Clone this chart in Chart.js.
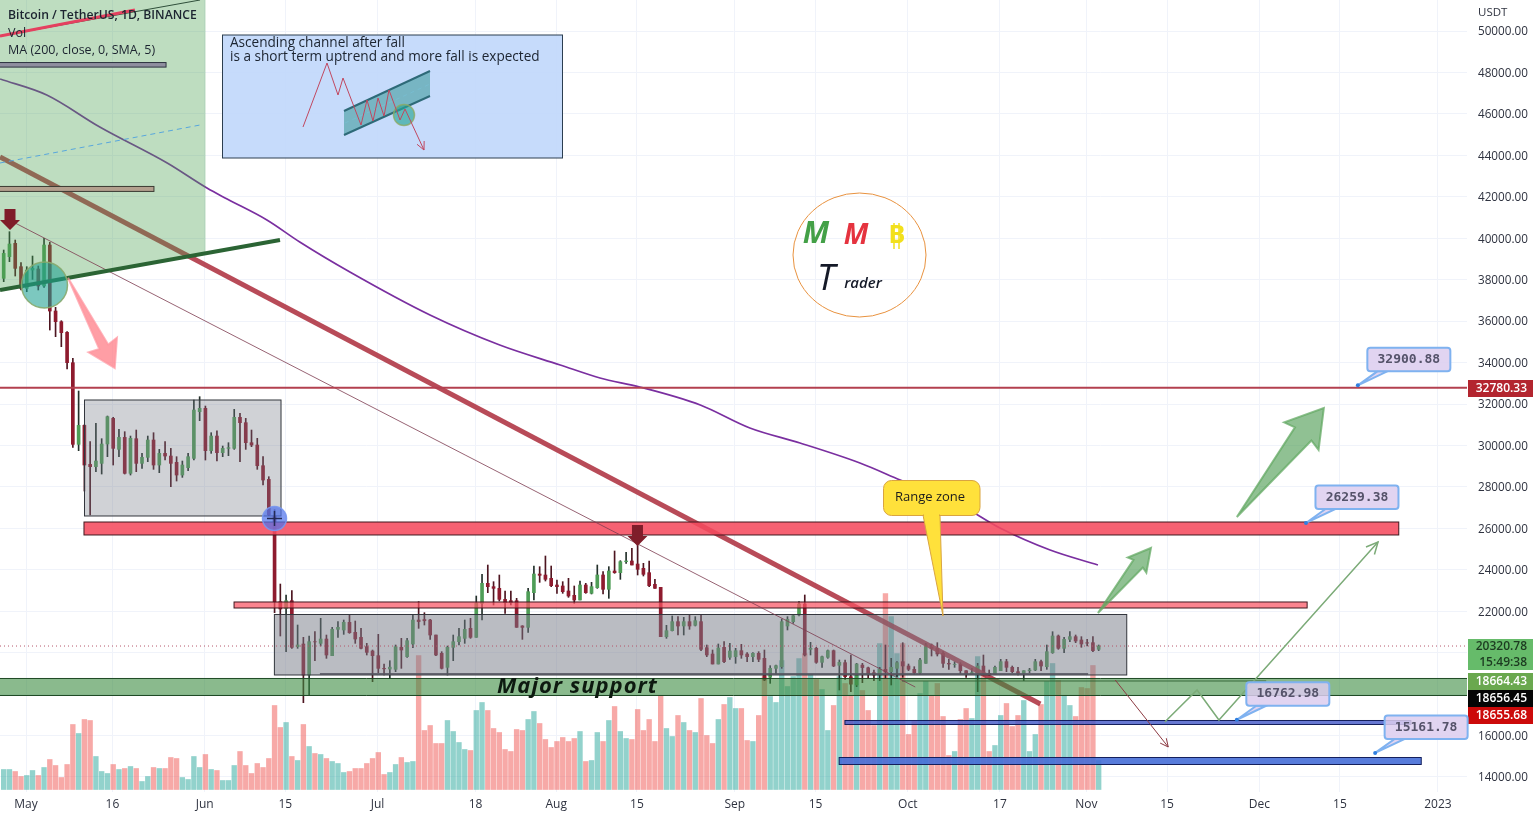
<!DOCTYPE html>
<html lang="en">
<head>
    <meta charset="UTF-8">
    <title>Bitcoin / TetherUS, 1D, BINANCE</title>
    <script src="https://cdn.jsdelivr.net/npm/chart.js"></script>
    <style>
        html, body { margin: 0; padding: 0; background: #fff; overflow: hidden; }
        canvas { display: block; }
    </style>
</head>
<body>
    <canvas id="myChart" width="1538" height="818"></canvas>

    <script>
        // day number 0 is 1 May 2022, first candle is 27 Apr
        // candles sit a little right of the date tick
        const firstDay = -3.87;

        const opens = [
            38065, 39110, 39754, 38628,
            37582, 38467, 38515, 37695, 39673, 36488, 35973, 35458, 33994, 30053, 30970, 29088, 28976, 29136, 30069, 31308, 29812, 30391, 28654, 30327, 29136, 29426, 30263, 29056, 29619, 29490, 29185, 28573, 28927, 29377, 31630,
            31791, 29748, 30455, 29651, 29860, 29860, 31357, 31100, 30134, 30021, 29023, 28364, 26600, 22461, 22139, 22509, 20289, 20418, 18922, 20530, 20450, 20659, 19855, 21126, 21094, 21463, 20981, 20740, 20289, 20080,
            19855, 19243, 19210, 19195, 20257, 19807, 20418, 21576, 21600, 21576, 20852, 19967, 19292, 20257, 20530, 20691, 21174, 20740, 22380, 23346, 23185, 23104, 22573, 22509, 22509, 21290, 21222, 22895, 23796, 23748, 23587,
            23265, 23218, 22976, 22767, 22542, 23266, 22864, 23137, 23749, 23057, 23942, 23861, 24392, 24424, 24279, 24070, 23861, 23298, 23153, 20772, 21062, 21497, 21287, 21497, 21320, 21497, 20242, 19936, 19453, 20258, 19775,
            19807, 20097, 19936, 19807, 19968, 19727, 18810, 19244, 19325, 21287, 21497, 21818, 22349, 20161, 20209, 19534, 19775, 20097, 19390, 19518, 18842, 18440, 19400, 19270, 19035, 18922, 19196, 19083, 19244, 19566,
            19357, 19196, 19035, 19485, 20370, 20209, 19968, 19485, 19430, 19440, 19131, 18970, 19035, 19357, 19003, 18960, 19131, 19566, 19292, 19083, 19003, 19131, 19163, 19566, 19323, 19997, 20805, 20209, 20643, 20772, 20612,
            20480, 20483, 20161
        ];
        const highs = [
            39432, 40317, 39915, 38821,
            38628, 39142, 38660, 39995, 39802, 36665, 36021, 35491, 34204, 32627, 31000, 30182, 31067, 30327, 31421, 31360, 30777, 30665, 30455, 30745, 29619, 30455, 30616, 29812, 30182, 29860, 29458, 29249, 29619, 32193, 32354,
            31903, 30616, 30712, 29973, 30134, 31742, 31549, 31308, 30745, 30343, 29458, 28493, 26900, 23313, 22783, 22992, 21335, 20740, 20804, 21013, 21657, 20852, 21222, 21496, 21576, 21817, 21528, 21174, 20450, 20128,
            20884, 19453, 19613, 20370, 20691, 20691, 21817, 22461, 21930, 21608, 20852, 20048, 20321, 20852, 21174, 21576, 21657, 22734, 23780, 24230, 23426, 23748, 22976, 22976, 22622, 21303, 23104, 24182, 24150, 24665, 24182,
            23507, 23427, 23588, 23218, 23459, 23347, 23395, 24231, 23909, 24151, 24907, 24440, 24843, 25036, 25196, 24312, 24424, 23539, 23153, 21320, 21770, 21738, 21706, 21850, 21738, 21818, 20370, 20129, 20419, 20531, 20451,
            20210, 20403, 20000, 20000, 20049, 20129, 19373, 19405, 21625, 21738, 21850, 22462, 22784, 20499, 20258, 19839, 20129, 20129, 19646, 19646, 19887, 19485, 19485, 19300, 19163, 19292, 20370, 19727, 19566, 20483,
            19453, 19324, 19727, 20450, 20418, 20483, 20048, 19678, 19566, 19518, 19131, 19244, 19485, 19887, 19163, 19357, 19678, 19678, 19357, 19292, 19131, 19244, 19678, 19646, 20370, 21013, 20853, 20740, 21013, 20853, 20772,
            20644, 20772, 20370
        ];
        const lows = [
            37904, 38869, 38177, 37502,
            37421, 38016, 37502, 37630, 35571, 35249, 34767, 33689, 29900, 29748, 27800, 26643, 28734, 28621, 29458, 29056, 29458, 28621, 28573, 28734, 28895, 29217, 28847, 28686, 29297, 28010, 28284, 28461, 28782, 29297, 31195,
            29297, 29619, 29249, 29458, 29506, 29812, 29217, 29812, 29941, 28847, 28091, 26610, 21930, 20804, 20048, 20209, 20209, 17586, 17924, 19613, 20321, 19726, 19855, 20740, 20884, 20933, 20450, 20176, 19887, 18600,
            19035, 18922, 18761, 19083, 19243, 19774, 20241, 21174, 21335, 20643, 19855, 19211, 18922, 19613, 20370, 20450, 20691, 20740, 21576, 22895, 22300, 22493, 21898, 22300, 21222, 20643, 20981, 22541, 23394, 23458, 23185,
            22863, 22864, 22671, 22381, 22542, 22864, 22832, 23105, 22832, 22623, 23829, 23539, 24312, 24231, 23749, 23700, 23186, 23105, 20772, 20692, 21046, 20853, 20853, 21127, 21287, 20097, 19807, 19453, 19453, 19518, 19679,
            19486, 19727, 19566, 19566, 19566, 18649, 18520, 18971, 19244, 21095, 21416, 21770, 19839, 19888, 19486, 19292, 19727, 19325, 18198, 18713, 18118, 18360, 18552, 18761, 18649, 18649, 18761, 18440, 18842, 18810,
            19131, 18954, 18970, 19485, 19839, 19839, 19292, 19196, 19292, 19003, 18810, 18970, 18118, 18922, 18890, 18970, 19131, 19083, 19035, 18922, 18649, 19035, 19131, 19131, 19196, 19968, 20161, 20000, 20531, 20483, 20258,
            20322, 20048, 20097
        ];
        const closes = [
            39270, 39721, 38547, 37582,
            38467, 38547, 37695, 39673, 36488, 35973, 35442, 33994, 30053, 30970, 29056, 28976, 29249, 30069, 31389, 29860, 30391, 28654, 30343, 29136, 29426, 30263, 29056, 29619, 29490, 29136, 28573, 29056, 29458, 31710, 31791,
            29748, 30455, 29651, 29860, 29892, 31357, 31100, 30134, 30021, 29023, 28332, 26643, 22461, 22107, 22509, 20257, 20370, 18922, 20530, 20520, 20659, 19887, 21126, 21222, 21463, 20965, 20659, 20209, 20016, 19855,
            19243, 19220, 19300, 20289, 20128, 20579, 21576, 21500, 21540, 20852, 19887, 19243, 20257, 20530, 20772, 21126, 20740, 22380, 23346, 23185, 23104, 22573, 22413, 22413, 21222, 21220, 22943, 23796, 23732, 23539, 23233,
            23185, 22944, 22735, 22542, 23266, 22896, 23186, 23749, 23057, 23942, 23860, 24392, 24424, 24231, 24022, 23781, 23234, 23105, 20772, 21062, 21497, 21287, 21497, 21287, 21545, 20161, 19888, 19453, 20225, 19566, 20081,
            20097, 19888, 19807, 19968, 19679, 18681, 19244, 19373, 21497, 21609, 21786, 22349, 19888, 20209, 19534, 19807, 20097, 19357, 19534, 18842, 18480, 19453, 19280, 18970, 18922, 19196, 19083, 19292, 19518, 19357,
            19196, 19035, 19646, 20370, 20209, 19936, 19485, 19453, 19440, 19131, 18970, 19035, 19357, 19003, 18950, 19292, 19566, 19292, 19083, 19003, 19131, 19163, 19566, 19357, 20048, 20805, 20209, 20643, 20772, 20563, 20418,
            20460, 20097, 20320.78
        ];
        // no volume axis on the chart, so these are relative (1 unit = 1 px of bar)
        const volumes = [
            20, 20, 18, 13,
            14, 19, 14, 22, 30, 24, 12, 25, 65, 56, 70, 69, 33, 18, 16, 25, 20, 21, 23, 21, 8, 13, 22, 21, 21, 32, 31, 12, 10, 33, 22,
            35, 20, 19, 9, 9, 24, 38, 24, 16, 26, 22, 31, 84, 62, 67, 33, 29, 65, 43, 36, 35, 31, 28, 26, 17, 18, 21, 21, 26, 31,
            37, 15, 17, 25, 32, 27, 28, 134, 59, 64, 46, 46, 69, 58, 47, 40, 39, 79, 87, 79, 61, 57, 40, 38, 60, 59, 70, 78, 66, 50, 42,
            48, 52, 48, 51, 58, 28, 29, 57, 48, 69, 83, 58, 51, 50, 80, 59, 70, 48, 94, 61, 53, 74, 67, 59, 57, 91, 54, 46, 70, 85, 92,
            81, 81, 49, 48, 74, 113, 93, 87, 129, 103, 113, 131, 136, 115, 110, 100, 59, 84, 113, 106, 94, 114, 99, 79, 64, 146, 196, 173, 136, 146,
            55, 68, 96, 108, 94, 106, 73, 34, 38, 70, 81, 71, 133, 113, 38, 44, 74, 86, 63, 74, 89, 38, 55, 85, 108, 126, 109, 94, 84, 73, 102,
            101, 124, 29
        ];

        // MA 200, read at a few places along the curve
        const maDays = [-4.5, 3.6, 12.8, 24.5, 31.4, 34.9, 41.8, 47.5, 56.2, 70.1, 82.2, 92.7, 99.6, 106.5, 117, 125.6, 134.3, 144.7, 151.7, 162.1, 169, 177.7, 186];
        const maValues = [47686, 46913, 45369, 43632, 42425, 41894, 40881, 39819, 38371, 36296, 34848, 33883, 33256, 32821, 31953, 30843, 30119, 29154, 28333, 27127, 26017, 24955, 24231];

        const priceTicks = [14000, 16000, 18000, 20000, 22000, 24000, 26000, 28000, 30000, 32000, 34000, 36000, 38000, 40000, 42000, 44000, 46000, 48000, 50000];
        const dayTicks = [0, 15, 31, 45, 61, 78, 92, 106, 123, 137, 153, 169, 184, 198, 214, 228, 245];
        const dayLabels = ['May', '16', 'Jun', '15', 'Jul', '18', 'Aug', '15', 'Sep', '15', 'Oct', '17', 'Nov', '15', 'Dec', '15', '2023'];

        // drawn zones: day from, day to, price top, price bottom
        const grayBoxes = [[10.15, 44.25, 32194, 26596], [43.1, 191, 21842, 18923]];
        const redZone = [10.06, 238.2, 26306, 25680];
        const pinkZone = [36.1, 222.3, 22446, 22156];
        const blueZones = [[142.1, 240.3, 16727, 16534], [141.1, 242.1, 14941, 14603]];
        const supportTop = 18754;
        const supportBottom = 17933;

        const resistanceLevel = 32780.33;
        const lastPrice = 20320.78;
        const targets = [[231.1, 32900.88], [222.1, 26259.38], [210.1, 16762.98], [234.1, 15161.78]];

        const days = opens.map((o, i) => firstDay + i);
        const isUp = opens.map((o, i) => closes[i] >= o);

        const upColor = '#4f9d57';
        const downColor = '#8e1b2e';

        function roundRect(ctx, x, y, w, h, r) {
            ctx.beginPath();
            ctx.roundRect(x, y, w, h, r);
        }

        function text(ctx, str, x, y, font, color, align) {
            ctx.font = font;
            ctx.fillStyle = color;
            ctx.textAlign = align || 'left';
            ctx.textBaseline = 'middle';
            ctx.fillText(str, x, y);
        }

        function polyline(ctx, pts, color, width, dash) {
            ctx.save();
            ctx.beginPath();
            pts.forEach((p, i) => i ? ctx.lineTo(p[0], p[1]) : ctx.moveTo(p[0], p[1]));
            ctx.strokeStyle = color;
            ctx.lineWidth = width;
            ctx.setLineDash(dash || []);
            ctx.stroke();
            ctx.restore();
        }

        function polygon(ctx, pts, fill, stroke, width) {
            ctx.beginPath();
            pts.forEach((p, i) => i ? ctx.lineTo(p[0], p[1]) : ctx.moveTo(p[0], p[1]));
            ctx.closePath();
            ctx.fillStyle = fill;
            ctx.fill();
            if (stroke) {
                ctx.strokeStyle = stroke;
                ctx.lineWidth = width || 1;
                ctx.stroke();
            }
        }

        function arrowHead(ctx, from, to, size, color, width) {
            const a = Math.atan2(to[1] - from[1], to[0] - from[0]);
            polyline(ctx, [
                [to[0] - size * Math.cos(a - 0.45), to[1] - size * Math.sin(a - 0.45)],
                to,
                [to[0] - size * Math.cos(a + 0.45), to[1] - size * Math.sin(a + 0.45)]
            ], color, width);
        }

        // big arrow with a thin tail, same shape as the tradingview one
        function blockArrow(ctx, from, to, headLen, headW, stem, fill, stroke) {
            const dx = to[0] - from[0], dy = to[1] - from[1];
            const len = Math.hypot(dx, dy);
            const ux = dx / len, uy = dy / len, nx = -uy, ny = ux;
            const bx = to[0] - ux * headLen, by = to[1] - uy * headLen;
            const nbx = to[0] - ux * headLen * 0.92, nby = to[1] - uy * headLen * 0.92;
            polygon(ctx, [
                from,
                [nbx + nx * stem, nby + ny * stem],
                [bx + nx * headW, by + ny * headW],
                to,
                [bx - nx * headW, by - ny * headW],
                [nbx - nx * stem, nby - ny * stem]
            ], fill, stroke, 2);
        }

        function downMarker(ctx, cx, top) {
            polygon(ctx, [
                [cx - 5.5, top], [cx + 5.5, top], [cx + 5.5, top + 11], [cx + 10, top + 11],
                [cx, top + 21], [cx - 10, top + 11], [cx - 5.5, top + 11]
            ], '#7f1d2a');
        }

        function zone(ctx, X, Y, z, fill, stroke) {
            const x = X(z[0]), y = Y(z[2]);
            const w = X(z[1]) - x, h = Y(z[3]) - y;
            ctx.fillStyle = fill;
            ctx.fillRect(x, y, w, h);
            ctx.strokeStyle = stroke;
            ctx.lineWidth = 1;
            ctx.strokeRect(x, y, w, h);
        }

        function infoBox(ctx) {
            ctx.fillStyle = 'rgba(190,214,250,0.88)';
            ctx.fillRect(222.5, 35, 340, 123);
            ctx.strokeStyle = '#2c3e50';
            ctx.lineWidth = 1;
            ctx.strokeRect(222.5, 35, 340, 123);
            polygon(ctx, [[344, 111], [430, 71], [430, 96], [344, 135]], 'rgba(55,150,150,0.55)');
            polyline(ctx, [[344, 111], [430, 71]], '#2e6a78', 2);
            polyline(ctx, [[344, 135], [430, 96]], '#2e6a78', 2);
            polyline(ctx, [[345, 123], [430, 84]], 'rgba(120,190,210,0.8)', 1, [4, 4]);
            ctx.beginPath();
            ctx.arc(404, 115, 10.5, 0, Math.PI * 2);
            ctx.fillStyle = 'rgba(40,165,150,0.65)';
            ctx.fill();
            ctx.strokeStyle = 'rgba(140,170,100,0.8)';
            ctx.lineWidth = 1.5;
            ctx.stroke();
            const path = [[303, 127], [327, 63], [338, 95], [343, 78], [361, 125], [367, 100], [373, 121], [378, 98], [384, 116], [389, 90], [400, 120], [405, 109], [424, 150]];
            polyline(ctx, path, '#c0475f', 1);
            arrowHead(ctx, path[11], path[12], 9, '#c0475f', 1);
            text(ctx, 'Ascending channel after fall', 230, 43.5, '13.6px "Open Sans"', '#1c2430');
            text(ctx, 'is a short term uptrend and more fall is expected', 230, 57.5, '13.6px "Open Sans"', '#1c2430');
        }

        function logo(ctx) {
            ctx.beginPath();
            ctx.ellipse(859.5, 255, 66.5, 62, 0, 0, Math.PI * 2);
            ctx.strokeStyle = '#e8923f';
            ctx.lineWidth = 1;
            ctx.stroke();
            text(ctx, 'M', 816, 234, 'italic bold 30px "Open Sans"', '#43a047', 'center');
            text(ctx, 'M', 856, 236, 'italic bold 28px "Open Sans"', '#e5333f', 'center');
            text(ctx, 'B', 897, 236, 'bold 25px "Open Sans"', '#f2e01c', 'center');
            polyline(ctx, [[894, 223], [894, 249]], '#f2e01c', 1.5);
            polyline(ctx, [[899, 223], [899, 249]], '#f2e01c', 1.5);
            text(ctx, 'T', 826, 280, 'italic 36px "Open Sans"', '#151a28', 'center');
            text(ctx, 'rader', 863, 284, 'italic 600 15px "Open Sans"', '#151a28', 'center');
        }

        function rangeCallout(ctx) {
            ctx.beginPath();
            ctx.roundRect(883.5, 480.5, 96.5, 35, 8);
            ctx.moveTo(923, 515);
            ctx.lineTo(943, 616);
            ctx.lineTo(940, 515);
            ctx.closePath();
            ctx.fillStyle = '#ffe13b';
            ctx.fill();
            ctx.strokeStyle = '#d9a441';
            ctx.lineWidth = 1;
            ctx.stroke();
            ctx.fillStyle = '#ffe13b';
            ctx.fillRect(924, 512, 15, 6);
            text(ctx, 'Range zone', 930, 497.5, '13px "Open Sans"', '#1c1c1c', 'center');
        }

        function targetCallout(ctx, X, Y, t) {
            const tipX = X(t[0]), tipY = Y(t[1]);
            const bx = tipX + 9.5, by = tipY - 37.5, bw = 83, bh = 23.5;
            ctx.beginPath();
            ctx.moveTo(tipX, tipY);
            ctx.lineTo(bx + 10, by + bh);
            ctx.lineTo(bx + 20, by + bh);
            ctx.closePath();
            ctx.fillStyle = 'rgba(220,205,238,0.85)';
            ctx.fill();
            ctx.strokeStyle = '#7fb2f0';
            ctx.lineWidth = 2;
            ctx.stroke();
            roundRect(ctx, bx, by, bw, bh, 3);
            ctx.fillStyle = 'rgba(220,205,238,0.85)';
            ctx.fill();
            ctx.stroke();
            text(ctx, t[1].toFixed(2), bx + bw / 2, by + bh / 2, 'bold 13px "DejaVu Sans Mono"', '#55536a', 'center');
            ctx.beginPath();
            ctx.arc(tipX, tipY, 2, 0, Math.PI * 2);
            ctx.fillStyle = '#2f7fe0';
            ctx.fill();
        }

        const drawings = {
            id: 'drawings',
            afterDatasetsDraw(chart) {
                const ctx = chart.ctx;
                const X = v => chart.scales.x.getPixelForValue(v);
                const Y = v => chart.scales.y.getPixelForValue(v);
                const area = chart.chartArea;

                ctx.save();
                ctx.beginPath();
                ctx.rect(area.left, area.top, area.right - area.left, area.bottom - area.top);
                ctx.clip();

                // thick trend line goes under the green channel, it turns brown in there
                polyline(ctx, [[X(-4.51), Y(43921)], [X(176), Y(17523)]], 'rgba(172,45,60,0.86)', 5);

                // green channel in the top left corner
                polygon(ctx, [[0, 0], [205.5, 0], [205.5, 253], [0, 290]], 'rgba(76,160,80,0.36)');
                polyline(ctx, [[X(-4.51), Y(43632)], [X(30.2), Y(45465)]], '#57a6dc', 1, [5, 4]);
                polyline(ctx, [[X(-4.51), Y(49761)], [X(30.2), Y(51498)]], '#2f4f3a', 1);
                polyline(ctx, [[X(-4.51), Y(49761)], [X(18.9), Y(51016)]], '#e5405f', 3);

                zone(ctx, X, Y, [-5, 24.3, 48480, 48260], '#8f8f9f', '#2e3440');
                zone(ctx, X, Y, [-5, 22.2, 42500, 42260], '#b3a08e', '#3a3a32');

                // the two grey ranges, over the candles
                zone(ctx, X, Y, grayBoxes[0], 'rgba(118,122,134,0.34)', '#33363d');
                zone(ctx, X, Y, grayBoxes[1], 'rgba(118,122,134,0.5)', '#33363d');
                polyline(ctx, [[X(51), Y(18971)], [X(184.3), Y(18971)]], 'rgba(85,85,95,0.85)', 2);
                polyline(ctx, [[X(152), Y(18633)], [X(215.2), Y(18633)]], '#2b2f2c', 1);

                // major support
                ctx.fillStyle = 'rgba(60,140,65,0.6)';
                ctx.fillRect(area.left, Y(supportTop), area.right - area.left, Y(supportBottom) - Y(supportTop));
                polyline(ctx, [[area.left, Y(supportTop)], [area.right, Y(supportTop)]], '#1f4a25', 1);
                polyline(ctx, [[area.left, Y(supportBottom)], [area.right, Y(supportBottom)]], '#1f4a25', 1);

                zone(ctx, X, Y, redZone, 'rgba(245,75,95,0.88)', '#40181f');
                zone(ctx, X, Y, pinkZone, 'rgba(250,85,100,0.72)', '#40181f');
                blueZones.forEach((b, i) => zone(ctx, X, Y, b, i ? 'rgba(70,110,215,0.9)' : 'rgba(70,90,200,0.82)', '#141f5c'));

                // trend lines
                polyline(ctx, [[X(-1.9), Y(40736)], [X(154.3), Y(18343)]], 'rgba(125,60,80,0.8)', 1);
                polyline(ctx, [[X(-4.51), Y(37503)], [X(44.07), Y(39916)]], '#2b6434', 4);

                polyline(ctx, [[area.left, Y(resistanceLevel)], [area.right, Y(resistanceLevel)]], '#b3404f', 2);
                polyline(ctx, [[area.left, Y(lastPrice)], [area.right, Y(lastPrice)]], '#b5566a', 1, [1, 3]);

                // circles on the breaks
                ctx.beginPath();
                ctx.arc(44.5, 285, 23, 0, Math.PI * 2);
                ctx.fillStyle = 'rgba(30,160,145,0.58)';
                ctx.fill();
                ctx.strokeStyle = 'rgba(135,170,110,0.9)';
                ctx.lineWidth = 1.5;
                ctx.stroke();
                ctx.beginPath();
                ctx.arc(274.5, 518.5, 12, 0, Math.PI * 2);
                ctx.fillStyle = 'rgba(80,115,235,0.72)';
                ctx.fill();
                ctx.strokeStyle = 'rgba(120,150,240,0.9)';
                ctx.stroke();
                polyline(ctx, [[267, 518.5], [282, 518.5]], '#232a55', 1.5);
                polyline(ctx, [[274.5, 511], [274.5, 526]], '#232a55', 1.5);

                downMarker(ctx, 10, 209);
                downMarker(ctx, X(106.1), 525);

                // arrows
                blockArrow(ctx, [X(7.3), Y(38082)], [X(15.4), Y(33738)], 26, 16, 5, 'rgba(255,120,130,0.72)', 'rgba(255,150,160,0.7)');
                blockArrow(ctx, [X(186), Y(21915)], [X(195.2), Y(25052)], 22, 12, 6, 'rgba(76,155,80,0.62)', 'rgba(100,170,100,0.75)');
                blockArrow(ctx, [X(210.1), Y(26548)], [X(225.2), Y(31808)], 36, 22, 10.5, 'rgba(76,155,80,0.62)', 'rgba(100,170,100,0.75)');
                const down = [[X(189), Y(18681)], [X(198.2), Y(15448)]];
                polyline(ctx, down, '#8c3a42', 1);
                arrowHead(ctx, down[0], down[1], 9, '#8c3a42', 1);
                const path = [[X(197.6), Y(16654)], [X(203.2), Y(18199)], [X(207), Y(16751)], [X(234.6), Y(25341)]];
                polyline(ctx, path, '#7cab78', 1.5);
                arrowHead(ctx, path[2], path[3], 13, '#7cab78', 1.5);

                infoBox(ctx);
                logo(ctx);
                rangeCallout(ctx);

                ctx.save();
                ctx.letterSpacing = '1px';
                text(ctx, 'Major support', 497, 687, 'italic bold 22px "Open Sans"', '#0d1a10');
                ctx.restore();

                text(ctx, 'Bitcoin / TetherUS, 1D, BINANCE', 8, 16, '600 12.2px "Open Sans"', '#1c2430');
                text(ctx, 'Vol', 8, 33, '12.5px "Open Sans"', '#1c2430');
                text(ctx, 'MA (200, close, 0, SMA, 5)', 8, 50.5, '12.5px "Open Sans"', '#1c2430');
                ctx.restore();
            },
            afterDraw(chart) {
                const ctx = chart.ctx;
                const X = v => chart.scales.x.getPixelForValue(v);
                const Y = v => chart.scales.y.getPixelForValue(v);

                // price tags on the axis
                const tag = (y, h, bg, fg, lines) => {
                    ctx.fillStyle = bg;
                    ctx.fillRect(1468, y, 65, h);
                    lines.forEach((l, i) => text(ctx, l, 1527, y + (h / lines.length) * (i + 0.5), '600 12px "Open Sans"', fg, 'right'));
                };
                tag(380, 17, '#b3252f', '#fff', [resistanceLevel.toFixed(2)]);
                tag(639, 31, '#66bb6a', '#1c3a20', [lastPrice.toFixed(2), '15:49:38']);
                tag(673, 17, '#6aa84f', '#fff', ['18664.43']);
                tag(690, 17, '#050505', '#fff', ['18656.45']);
                tag(707, 17, '#cc0a0a', '#fff', ['18655.68']);
                text(ctx, 'USDT', 1478, 13, '11.5px "Open Sans"', '#2f3340');

                targets.forEach(t => targetCallout(ctx, X, Y, t));
            }
        };

        const ctx = document.getElementById('myChart').getContext('2d');
        new Chart(ctx, {
            type: 'bar',
            data: {
                datasets: [
                    {
                        type: 'line',
                        data: maDays.map((d, i) => ({ x: d, y: maValues[i] })),
                        borderColor: '#7a2fa0',
                        borderWidth: 1.7,
                        pointRadius: 0,
                        cubicInterpolationMode: 'monotone',
                        yAxisID: 'y',
                        order: 1
                    },
                    {
                        // bodies
                        data: days.map((d, i) => ({ x: d, y: [opens[i], closes[i]] })),
                        backgroundColor: isUp.map(u => u ? upColor : downColor),
                        barThickness: 3,
                        grouped: false,
                        yAxisID: 'y',
                        order: 2
                    },
                    {
                        // wicks
                        data: days.map((d, i) => ({ x: d, y: [lows[i], highs[i]] })),
                        backgroundColor: isUp.map(u => u ? '#23302a' : '#4d1520'),
                        barThickness: 1,
                        grouped: false,
                        yAxisID: 'y',
                        order: 3
                    },
                    {
                        // volume
                        data: days.map((d, i) => ({ x: d, y: volumes[i] })),
                        backgroundColor: isUp.map(u => u ? 'rgba(38,166,154,0.5)' : 'rgba(239,83,80,0.5)'),
                        barThickness: 4.7,
                        grouped: false,
                        yAxisID: 'volume',
                        order: 4
                    }
                ]
            },
            options: {
                responsive: false,
                animation: false,
                events: [],
                plugins: { legend: { display: false }, tooltip: { enabled: false } },
                scales: {
                    x: {
                        type: 'linear',
                        min: -4.512,
                        max: 250.04,
                        offset: false,
                        afterBuildTicks(axis) { axis.ticks = dayTicks.map(v => ({ value: v })); },
                        afterFit(axis) { axis.height = 26; axis.paddingLeft = 0; axis.paddingRight = 0; },
                        grid: { color: '#f0f3fa', offset: false, drawTicks: false },
                        border: { display: false },
                        ticks: {
                            autoSkip: false,
                            maxRotation: 0,
                            padding: 5,
                            color: '#2f3340',
                            font: { family: 'Open Sans', size: 12 },
                            callback: v => dayLabels[dayTicks.indexOf(v)]
                        }
                    },
                    y: {
                        position: 'right',
                        min: 13276,
                        max: 51498,
                        afterBuildTicks(axis) { axis.ticks = priceTicks.map(v => ({ value: v })); },
                        afterFit(axis) { axis.width = 71; axis.paddingTop = 0; axis.paddingBottom = 0; },
                        grid: { color: '#f0f3fa', drawTicks: false },
                        border: { display: false },
                        ticks: {
                            padding: 11,
                            labelOffset: 1,
                            color: '#2f3340',
                            font: { family: 'Open Sans', size: 11.7 },
                            callback: v => v.toFixed(2)
                        }
                    },
                    volume: {
                        display: false,
                        min: -2.5,
                        max: 789.5
                    }
                }
            },
            plugins: [drawings]
        });
    </script>
</body>
</html>
